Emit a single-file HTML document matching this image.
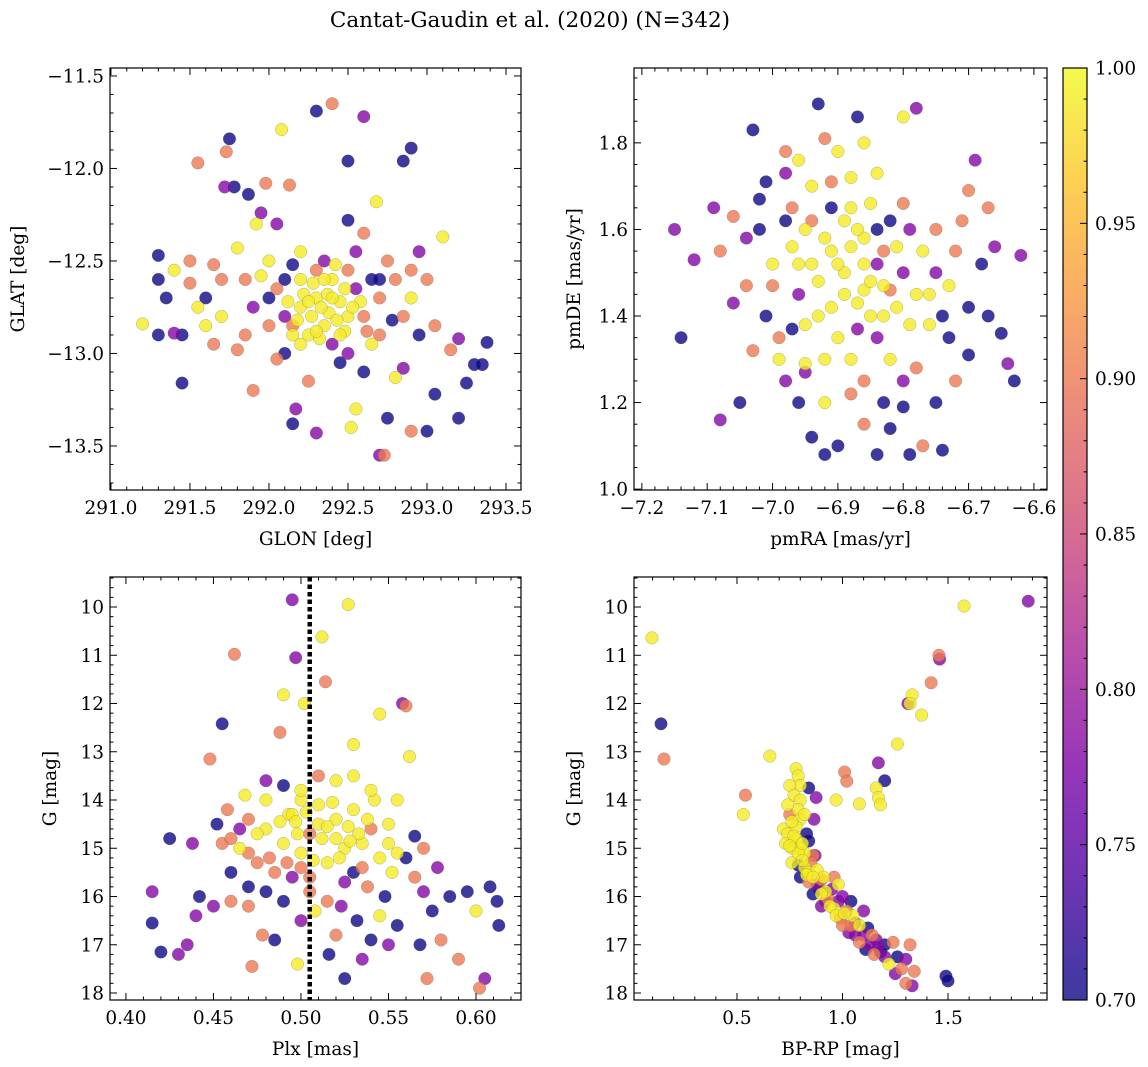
<!DOCTYPE html>
<html><head><meta charset="utf-8"><style>
body{margin:0;background:#fff;}
svg{display:block;font-family:"DejaVu Serif","Liberation Serif",serif;}
</style></head><body>
<svg id="fig" width="1148" height="1067" viewBox="0 0 1148 1067" xmlns="http://www.w3.org/2000/svg">
<defs><linearGradient id="cbg" x1="0" y1="1" x2="0" y2="0">
<stop offset="0" stop-color="#0d0887"/><stop offset="0.13" stop-color="#4c02a1"/><stop offset="0.25" stop-color="#7e03a8"/><stop offset="0.38" stop-color="#a92395"/><stop offset="0.5" stop-color="#cc4778"/><stop offset="0.63" stop-color="#e66c5c"/><stop offset="0.75" stop-color="#f89540"/><stop offset="0.88" stop-color="#fdc527"/><stop offset="1" stop-color="#f0f921"/></linearGradient></defs>
<text x="530" y="27" font-size="21.5" text-anchor="middle">Cantat-Gaudin et al. (2020) (N=342)</text>
</svg>
<script>
// ---- data: [x, y, membership probability]
const glonGlat=[[291.2,-12.84,.99],[291.3,-12.47,.7],[291.3,-12.6,.7],[291.3,-12.9,.7],[291.35,-12.7,.7],[291.4,-12.55,.99],[291.4,-12.89,.78],[291.45,-13.16,.7],[291.45,-12.9,.7],[291.5,-12.5,.9],[291.5,-12.62,.9],[291.55,-11.97,.9],[291.6,-12.7,.7],[291.65,-12.52,.9],[291.7,-12.8,.99],[291.72,-12.1,.78],[291.73,-11.91,.9],[291.75,-11.84,.7],[291.78,-12.1,.7],[291.8,-12.43,.99],[291.8,-12.98,.9],[291.85,-12.6,.9],[291.87,-12.14,.7],[291.9,-13.2,.9],[291.92,-12.3,.99],[291.95,-12.24,.78],[291.95,-12.58,.99],[291.98,-12.08,.9],[292.0,-12.7,.7],[292.05,-13.03,.9],[292.08,-11.79,.99],[292.1,-12.8,.78],[292.13,-12.09,.9],[292.15,-12.52,.7],[292.15,-13.38,.7],[292.17,-13.3,.78],[292.2,-12.45,.99],[292.2,-12.6,.99],[292.25,-12.9,.99],[292.3,-11.69,.7],[292.3,-13.43,.78],[292.35,-12.5,.78],[292.4,-11.65,.9],[292.45,-12.72,.99],[292.5,-12.28,.7],[292.5,-11.96,.7],[292.52,-13.4,.99],[292.55,-13.3,.99],[292.6,-11.72,.78],[292.6,-12.35,.9],[292.65,-12.6,.7],[292.68,-12.18,.99],[292.7,-13.55,.78],[292.73,-13.55,.9],[292.75,-13.35,.7],[292.8,-13.13,.99],[292.85,-11.96,.7],[292.85,-13.08,.78],[292.9,-11.89,.7],[292.9,-13.42,.9],[292.95,-12.45,.78],[293.0,-13.42,.7],[293.05,-13.22,.7],[293.1,-12.37,.99],[293.15,-12.98,.9],[293.2,-13.35,.7],[293.2,-12.92,.78],[293.25,-13.16,.7],[293.3,-13.06,.7],[293.35,-13.06,.7],[293.38,-12.94,.7],[292.5,-12.8,.99],[292.3,-12.7,.99],[292.4,-12.6,.99],[292.35,-12.85,.99],[292.55,-12.65,.78],[292.7,-12.9,.9],[292.8,-12.6,.9],[292.6,-13.1,.7],[292.0,-12.85,.9],[292.1,-13.0,.7],[291.9,-12.75,.78],[292.9,-12.7,.99],[292.75,-12.5,.9],[292.25,-13.15,.9],[292.45,-13.05,.7],[292.2,-12.75,.99],[292.3,-12.55,.9],[292.4,-12.95,.78],[292.6,-12.8,.9],[292.1,-12.6,.7],[291.6,-12.85,.99],[292.65,-12.95,.99],[292.15,-12.9,.99],[292.5,-12.55,.9],[292.28,-12.62,.99],[292.38,-12.78,.99],[292.22,-12.68,.99],[292.42,-12.52,.99],[292.32,-12.92,.99],[292.48,-12.88,.99],[292.12,-12.72,.99],[292.58,-12.72,.99],[291.55,-12.75,.99],[291.7,-12.6,.9],[292.85,-12.8,.9],[293.0,-12.6,.9],[292.95,-12.9,.7],[292.0,-12.5,.99],[292.55,-12.45,.78],[292.05,-12.3,.78],[292.33,-12.75,.99],[292.27,-12.8,.99],[292.37,-12.68,.99],[292.43,-12.82,.99],[292.35,-12.6,.99],[292.25,-12.72,.99],[292.4,-12.7,.99],[292.3,-12.88,.99],[292.18,-12.82,.99],[292.48,-12.65,.99],[292.53,-12.75,.99],[292.45,-12.9,.99],[292.2,-12.95,.99],[292.62,-12.88,.9],[292.05,-12.65,.9],[292.7,-12.7,.9],[292.78,-12.82,.7],[291.85,-12.9,.9],[292.15,-12.85,.9],[292.5,-13.0,.78],[292.7,-12.6,.7],[292.9,-12.55,.9],[293.05,-12.85,.9],[291.65,-12.95,.9]];
const pmraPmde=[[-7.15,1.6,.78],[-7.14,1.35,.7],[-7.12,1.53,.78],[-7.09,1.65,.78],[-7.08,1.16,.78],[-7.06,1.43,.78],[-7.05,1.2,.7],[-7.04,1.58,.78],[-7.03,1.32,.9],[-7.02,1.67,.7],[-7.02,1.6,.7],[-7.0,1.47,.9],[-6.99,1.35,.9],[-6.98,1.73,.78],[-6.97,1.37,.7],[-6.96,1.52,.99],[-6.95,1.29,.99],[-6.95,1.27,.78],[-6.94,1.62,.9],[-6.93,1.89,.7],[-6.92,1.81,.9],[-6.91,1.71,.9],[-6.9,1.1,.7],[-6.88,1.65,.99],[-6.87,1.86,.7],[-6.86,1.46,.99],[-6.85,1.4,.99],[-6.84,1.73,.99],[-6.83,1.2,.7],[-6.82,1.14,.7],[-6.8,1.86,.99],[-6.79,1.08,.7],[-6.78,1.88,.78],[-6.77,1.55,.99],[-6.76,1.38,.99],[-6.75,1.2,.7],[-6.74,1.09,.7],[-6.72,1.25,.9],[-6.71,1.62,.9],[-6.7,1.42,.7],[-6.69,1.76,.78],[-6.68,1.52,.7],[-6.67,1.65,.9],[-6.66,1.56,.78],[-6.65,1.36,.7],[-6.64,1.29,.78],[-6.62,1.54,.78],[-6.63,1.25,.7],[-6.97,1.56,.99],[-6.95,1.6,.99],[-6.93,1.48,.99],[-6.91,1.55,.99],[-6.89,1.5,.99],[-6.87,1.43,.99],[-6.86,1.58,.99],[-6.84,1.52,.78],[-6.82,1.46,.9],[-6.8,1.5,.78],[-6.78,1.45,.99],[-6.9,1.35,.99],[-6.92,1.3,.99],[-6.88,1.3,.99],[-6.86,1.25,.9],[-6.84,1.35,.78],[-6.82,1.62,.7],[-6.8,1.66,.9],[-6.96,1.45,.78],[-6.98,1.62,.7],[-7.0,1.52,.99],[-7.01,1.71,.7],[-7.03,1.83,.7],[-6.94,1.7,.99],[-6.9,1.78,.99],[-6.88,1.72,.99],[-6.86,1.8,.99],[-6.84,1.6,.7],[-6.82,1.3,.99],[-6.8,1.25,.78],[-6.78,1.28,.9],[-6.76,1.45,.99],[-6.74,1.4,.7],[-6.72,1.55,.9],[-6.7,1.31,.7],[-6.96,1.2,.7],[-6.94,1.12,.7],[-6.92,1.08,.7],[-6.98,1.25,.78],[-6.86,1.15,.9],[-6.84,1.08,.7],[-6.8,1.19,.7],[-6.77,1.1,.9],[-6.91,1.65,.7],[-6.89,1.62,.99],[-6.85,1.66,.99],[-6.87,1.37,.78],[-6.93,1.4,.99],[-6.99,1.3,.99],[-7.01,1.4,.7],[-7.04,1.47,.9],[-6.83,1.4,.99],[-6.81,1.56,.99],[-6.79,1.6,.78],[-6.75,1.5,.78],[-6.73,1.47,.99],[-6.92,1.2,.99],[-6.88,1.22,.9],[-6.9,1.52,.99],[-6.88,1.56,.99],[-6.86,1.52,.99],[-6.92,1.58,.99],[-6.89,1.45,.99],[-6.85,1.48,.99],[-6.83,1.55,.9],[-6.94,1.52,.99],[-6.91,1.42,.99],[-6.87,1.6,.99],[-6.95,1.38,.99],[-6.81,1.42,.99],[-6.79,1.38,.99],[-6.83,1.47,.99],[-6.97,1.65,.9],[-6.75,1.6,.9],[-6.7,1.69,.9],[-6.73,1.35,.7],[-6.67,1.4,.7],[-7.06,1.63,.9],[-7.08,1.55,.9],[-6.96,1.76,.99],[-6.98,1.78,.9]];
const plxG=[[0.415,15.9,.78],[0.415,16.55,.7],[0.42,17.15,.7],[0.425,14.8,.7],[0.43,17.2,.78],[0.435,17.0,.78],[0.438,14.9,.78],[0.44,16.4,.78],[0.442,16.0,.7],[0.448,13.15,.9],[0.45,16.2,.78],[0.452,14.5,.7],[0.455,12.42,.7],[0.458,14.2,.9],[0.46,16.1,.9],[0.462,10.98,.9],[0.465,15.0,.99],[0.468,13.9,.99],[0.47,15.8,.7],[0.472,17.45,.9],[0.475,15.3,.9],[0.478,16.8,.9],[0.48,13.6,.78],[0.485,16.9,.7],[0.488,12.6,.9],[0.49,11.82,.99],[0.493,14.3,.99],[0.495,9.85,.78],[0.497,11.05,.78],[0.498,17.4,.99],[0.5,14.0,.99],[0.502,12.0,.99],[0.505,15.6,.9],[0.508,16.3,.99],[0.51,14.5,.99],[0.512,10.62,.99],[0.514,11.55,.9],[0.516,17.2,.7],[0.52,14.8,.99],[0.523,16.2,.78],[0.525,17.7,.7],[0.527,9.95,.99],[0.53,12.85,.99],[0.532,16.5,.7],[0.535,17.3,.78],[0.538,15.8,.9],[0.54,16.9,.7],[0.542,14.0,.99],[0.545,12.22,.99],[0.548,16.0,.7],[0.55,17.0,.78],[0.552,15.5,.99],[0.555,16.6,.7],[0.558,12.0,.78],[0.56,12.05,.9],[0.562,13.1,.99],[0.565,14.75,.7],[0.568,17.0,.7],[0.57,15.0,.9],[0.572,17.7,.9],[0.575,16.3,.7],[0.578,15.4,.78],[0.58,16.9,.9],[0.585,16.0,.7],[0.59,17.3,.9],[0.595,15.9,.7],[0.6,16.3,.99],[0.602,17.9,.9],[0.605,17.7,.78],[0.608,15.8,.7],[0.612,16.1,.7],[0.613,16.6,.7],[0.48,14.6,.99],[0.49,14.9,.99],[0.495,14.3,.99],[0.5,15.1,.99],[0.505,14.7,.9],[0.51,14.1,.99],[0.515,15.3,.99],[0.52,14.4,.99],[0.525,15.0,.99],[0.53,14.2,.99],[0.535,14.9,.99],[0.54,14.6,.9],[0.545,15.2,.99],[0.485,15.5,.9],[0.495,15.6,.78],[0.505,15.9,.9],[0.515,16.1,.9],[0.525,15.7,.78],[0.535,15.4,.9],[0.47,15.1,.9],[0.475,14.7,.99],[0.465,14.6,.78],[0.455,14.9,.9],[0.46,15.5,.7],[0.55,14.5,.99],[0.555,14.0,.99],[0.56,15.2,.7],[0.565,15.6,.9],[0.57,15.9,.78],[0.53,13.5,.99],[0.52,13.6,.99],[0.51,13.5,.9],[0.5,13.8,.99],[0.49,13.7,.7],[0.48,14.0,.99],[0.54,13.8,.99],[0.5,16.5,.78],[0.49,16.1,.7],[0.48,15.9,.7],[0.47,16.2,.9],[0.52,16.8,.9],[0.53,15.5,.7],[0.545,16.4,.99],[0.555,15.1,.99],[0.497,14.45,.99],[0.503,14.25,.99],[0.512,14.8,.99],[0.518,14.05,.99],[0.527,14.55,.99],[0.533,14.7,.99],[0.488,14.45,.99],[0.507,15.25,.99],[0.522,15.2,.99],[0.538,14.4,.99],[0.492,15.3,.9],[0.482,15.2,.9],[0.498,14.7,.99],[0.515,14.55,.99],[0.528,14.85,.99],[0.47,14.4,.9],[0.46,14.8,.9],[0.55,14.9,.99],[0.5,15.4,.9]];
const bprpG=[[0.097,10.64,.99],[0.14,12.42,.7],[0.154,13.15,.9],[1.576,9.98,.99],[1.88,9.88,.78],[1.457,11.0,.9],[1.46,11.08,.78],[1.42,11.57,.9],[1.33,11.82,.99],[1.31,12.0,.78],[1.32,12.0,.99],[1.375,12.24,.99],[1.26,12.84,.99],[1.17,13.23,.78],[1.2,13.6,.7],[1.16,13.75,.99],[1.17,13.95,.99],[1.18,14.1,.99],[1.01,13.42,.9],[1.02,13.61,.9],[0.97,14.0,.99],[1.08,14.08,.99],[0.656,13.09,.99],[0.54,13.9,.9],[0.53,14.3,.99],[0.875,13.95,.78],[0.865,14.4,.78],[0.78,13.35,.99],[0.79,13.5,.99],[0.8,13.7,.99],[0.75,13.7,.99],[0.84,13.75,.7],[0.77,13.9,.99],[0.8,14.0,.99],[0.79,14.2,.99],[0.75,14.3,.9],[0.8,14.4,.99],[0.72,14.6,.99],[0.74,14.7,.99],[0.78,14.55,.99],[0.83,14.7,.7],[0.84,14.85,.7],[0.73,14.9,.99],[0.76,15.0,.99],[0.8,15.0,.99],[0.82,15.1,.99],[0.86,15.15,.9],[0.76,15.3,.99],[0.79,15.35,.7],[0.82,15.4,.99],[0.84,15.5,.99],[0.88,15.45,.99],[0.8,15.6,.7],[0.84,15.7,.9],[0.88,15.75,.78],[0.9,15.65,.9],[0.92,15.9,.99],[0.86,15.95,.7],[0.95,15.85,.78],[0.93,16.05,.9],[0.98,16.1,.78],[1.0,16.0,.78],[0.96,16.25,.99],[1.02,16.3,.9],[0.99,16.45,.9],[1.05,16.4,.99],[1.08,16.6,.99],[1.0,16.6,.9],[1.03,16.75,.78],[1.06,16.8,.78],[1.12,16.65,.7],[1.14,16.8,.9],[1.08,16.95,.9],[1.11,17.1,.7],[1.17,17.05,.78],[1.24,16.95,.9],[1.15,17.2,.9],[1.2,17.25,.78],[1.22,17.4,.99],[1.26,17.25,.7],[1.3,17.3,.78],[1.32,17.0,.9],[1.28,17.5,.9],[1.25,17.6,.78],[1.34,17.55,.9],[1.3,17.8,.9],[1.33,17.85,.78],[1.49,17.65,.7],[1.5,17.75,.7],[0.96,15.6,.9],[1.04,16.1,.7],[1.1,16.3,.78],[0.9,16.2,.78],[0.74,14.1,.99],[0.82,14.3,.99],[0.78,14.8,.99],[0.87,15.15,.78],[0.91,15.6,.99],[0.98,15.75,.99],[1.06,16.55,.78],[1.16,16.9,.78],[1.2,17.0,.7],[0.76,14.45,.99],[0.77,14.75,.99],[0.79,15.1,.99],[0.81,15.25,.99],[0.83,15.55,.99],[0.86,15.6,.99],[0.9,15.95,.99],[0.94,16.2,.99],[0.97,16.4,.99],[0.75,14.95,.99],[0.81,14.9,.99],[0.85,15.3,.9],[0.89,15.85,.7],[0.92,16.1,.78],[1.01,16.35,.99],[1.04,16.6,.9],[1.1,16.8,.78],[1.13,17.0,.78],[1.18,17.15,.7]];
const cbTicks=[0.70,0.75,0.80,0.85,0.90,0.95,1.00];

const NS="http://www.w3.org/2000/svg";
const svg=document.getElementById('fig');
function el(tag,attrs,parent){const e=document.createElementNS(NS,tag);for(const k in attrs)e.setAttribute(k,attrs[k]);(parent||svg).appendChild(e);return e;}
const stops=[[0,[13,8,135]],[.13,[76,2,161]],[.25,[126,3,168]],[.38,[169,35,149]],[.5,[204,71,120]],[.63,[230,108,92]],[.75,[248,149,64]],[.88,[253,197,39]],[1,[240,249,33]]];
function plasma(p){let t=Math.max(0,Math.min(1,(p-0.7)/0.3));for(let i=1;i<stops.length;i++){if(t<=stops[i][0]){const a=stops[i-1],b=stops[i],f=(t-a[0])/(b[0]-a[0]);return 'rgb('+a[1].map((v,j)=>Math.round(v+(b[1][j]-v)*f)).join(',')+')';}}return 'rgb(240,249,33)';}
function fmt(v,d){let s=v.toFixed(d);return s.replace('-','\u2212');}
const FS=18.5;

function panel(o){
  const {x0,x1,y0,y1,xmin,xmax,ymin,ymax,name}=o;
  const sx=v=>x0+(v-xmin)/(xmax-xmin)*(x1-x0);
  const sy=v=>o.inv? y0+(v-ymin)/(ymax-ymin)*(y1-y0) : y1-(v-ymin)/(ymax-ymin)*(y1-y0);
  const g=el('g',{});
  
  
  const pts=el('g',{},g);
  
  
  const sorted=o.data.slice().sort((a,b)=>a[2]-b[2]);
  sorted.forEach(d=>{
    const c=el('circle',{cx:sx(d[0]),cy:sy(d[1]),r:6.3,fill:plasma(d[2]),'fill-opacity':0.8,stroke:'#555','stroke-width':0.35,'stroke-opacity':0.6},pts);
    
    
  });
  if(o.vline!==undefined){const l=el('line',{x1:sx(o.vline),x2:sx(o.vline),y1:y0,y2:y1,stroke:'#000','stroke-width':4.5,'stroke-dasharray':'4.5,3'},g);
    
    }
  const fr=el('rect',{x:x0,y:y0,width:x1-x0,height:y1-y0,fill:'none',stroke:'#000','stroke-width':1.2},g);
  
  
  for(let v=Math.ceil(xmin/o.xminor-1e-9)*o.xminor; v<=xmax+1e-9; v+=o.xminor){
    const X=sx(v);const major=Math.abs(v/o.xstep-Math.round(v/o.xstep))<1e-6;const L=major?7:3.5;
    el('line',{x1:X,x2:X,y1:y1,y2:y1-L,stroke:'#000','stroke-width':1},g);
    el('line',{x1:X,x2:X,y1:y0,y2:y0+L,stroke:'#000','stroke-width':1},g);
    if(major){const t=el('text',{x:X,y:y1+24,'font-size':FS,'text-anchor':'middle'},g);t.textContent=fmt(v,o.xd);
      
      }
  }
  for(let v=Math.ceil(Math.min(ymin,ymax)/o.yminor-1e-9)*o.yminor; v<=Math.max(ymin,ymax)+1e-9; v+=o.yminor){
    const Y=sy(v);const major=Math.abs(v/o.ystep-Math.round(v/o.ystep))<1e-6;const L=major?7:3.5;
    el('line',{x1:x0,x2:x0+L,y1:Y,y2:Y,stroke:'#000','stroke-width':1},g);
    el('line',{x1:x1,x2:x1-L,y1:Y,y2:Y,stroke:'#000','stroke-width':1},g);
    if(major){const t=el('text',{x:x0-6,y:Y+6.5,'font-size':FS,'text-anchor':'end'},g);t.textContent=fmt(v,o.yd);
      
      }
  }
  const xl=el('text',{x:(x0+x1)/2,y:y1+55,'font-size':FS,'text-anchor':'middle'},g);xl.textContent=o.xlabel;
  
  
  const yx=o.ylx, yy=(y0+y1)/2;
  const yl=el('text',{x:yx,y:yy,'font-size':FS,'text-anchor':'middle',transform:`rotate(-90 ${yx} ${yy})`},g);yl.textContent=o.ylabel;
  
  
}
panel({name:'glon-glat-panel',data:glonGlat,x0:110,x1:521,y0:68,y1:490,xmin:290.994,xmax:293.595,ymin:-13.738,ymax:-11.457,xstep:0.5,xminor:0.1,ystep:0.5,yminor:0.1,xd:1,yd:1,xlabel:'GLON [deg]',ylabel:'GLAT [deg]',ylx:24});
panel({name:'proper-motion-panel',data:pmraPmde,x0:634,x1:1047,y0:68,y1:490,xmin:-7.212,xmax:-6.58,ymin:0.998,ymax:1.973,xstep:0.1,xminor:0.02,ystep:0.2,yminor:0.05,xd:1,yd:1,xlabel:'pmRA [mas/yr]',ylabel:'pmDE [mas/yr]',ylx:580});
panel({name:'parallax-mag-panel',data:plxG,x0:110,x1:521,y0:577,y1:1000,xmin:0.3909,xmax:0.6257,ymin:9.378,ymax:18.145,inv:true,xstep:0.05,xminor:0.01,ystep:1,yminor:0.2,xd:2,yd:0,xlabel:'Plx [mas]',ylabel:'G [mag]',ylx:56,vline:0.505});
panel({name:'cmd-panel',data:bprpG,x0:634,x1:1047,y0:577,y1:1000,xmin:0.012,xmax:1.969,ymin:9.378,ymax:18.145,inv:true,xstep:0.5,xminor:0.1,ystep:1,yminor:0.2,xd:1,yd:0,xlabel:'BP-RP [mag]',ylabel:'G [mag]',ylx:580});

const cb=el('g',{});


const cx0=1063,cx1=1087,cy0=68,cy1=1000;
el('rect',{x:cx0,y:cy0,width:cx1-cx0,height:cy1-cy0,fill:'url(#cbg)','fill-opacity':0.8},cb);
el('rect',{x:cx0,y:cy0,width:cx1-cx0,height:cy1-cy0,fill:'none',stroke:'#000','stroke-width':1.2},cb);
const cys=v=>cy1-(v-0.7)/0.3*(cy1-cy0);
for(let i=0;i<=30;i++){const v=0.7+i*0.01;const Y=cys(v);const major=i%5===0;
  el('line',{x1:cx1,x2:cx1-(major?7:3.5),y1:Y,y2:Y,stroke:'#000','stroke-width':1},cb);}
cbTicks.forEach(v=>{const Y=cys(v);const t=el('text',{x:cx1+8,y:Y+6.5,'font-size':FS},cb);t.textContent=v.toFixed(2);
  
  });
</script>
</body></html>
